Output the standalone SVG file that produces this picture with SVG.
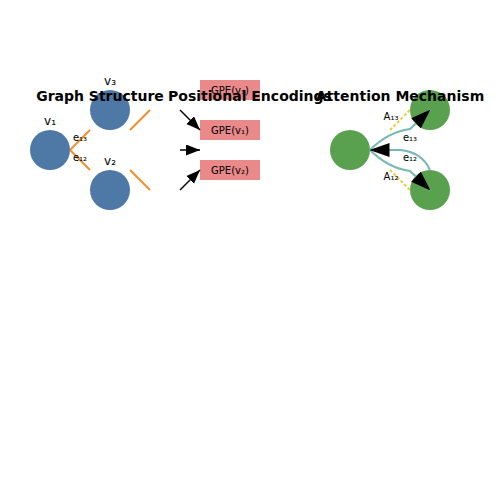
<svg xmlns="http://www.w3.org/2000/svg" width="500" height="500" viewBox="0 0 500 500">
<style>
text{font-family:"DejaVu Sans","Liberation Sans",sans-serif;fill:#000;text-anchor:middle}
.title{font-size:14px;font-weight:bold}
.lbl{font-size:12px}
.sm{font-size:10px}
.gn{fill:#4e79a7}
.an{fill:#59a14f}
.edge{stroke:#f28e2b;stroke-width:2;fill:none}
.blk{stroke:#000;stroke-width:1.5;fill:none}
.teal{stroke:#76b7b2;stroke-width:2;fill:none}
.dash{stroke:#edc948;stroke-width:2;stroke-dasharray:3,2;fill:none}
.box{fill:#e15759;fill-opacity:0.7}
</style>
<defs>
<marker id="ah" markerUnits="userSpaceOnUse" markerWidth="15" markerHeight="12" refX="14" refY="5.5" orient="auto">
<path d="M0,0 L14,5.5 L0,11 Z" fill="#000"/>
</marker>
<marker id="ahb" markerUnits="userSpaceOnUse" markerWidth="21" markerHeight="15" refX="20" refY="7" orient="auto">
<path d="M0,0 L20,7 L0,14 Z" fill="#000"/>
</marker>
</defs>
<rect width="500" height="500" fill="#fff"/>

<g id="graph-edges">
<path class="edge" d="M90,130 L70,150 L90,170"/>
<path class="edge" d="M130,130 L150,110"/>
<path class="edge" d="M130,170 L150,190"/>
</g>
<g id="v1"><circle class="gn" cx="50" cy="150" r="20"/><text class="lbl" x="50" y="125">v₁</text></g>
<g id="v3"><circle class="gn" cx="110" cy="110" r="20"/><text class="lbl" x="110" y="85">v₃</text></g>
<g id="v2"><circle class="gn" cx="110" cy="190" r="20"/><text class="lbl" x="110" y="165">v₂</text></g>
<text class="sm" x="80" y="141">e₁₃</text>
<text class="sm" x="80" y="161">e₁₂</text>

<g id="gpe-v3"><rect class="box" x="200" y="80" width="60" height="20"/><text class="sm" x="230" y="94">GPE(v₃)</text></g>
<g id="gpe-v1"><rect class="box" x="200" y="120" width="60" height="20"/><text class="sm" x="230" y="134">GPE(v₁)</text></g>
<g id="gpe-v2"><rect class="box" x="200" y="160" width="60" height="20"/><text class="sm" x="230" y="174">GPE(v₂)</text></g>

<g id="att-center"><circle class="an" cx="350" cy="150" r="20"/></g>
<g id="att-top"><circle class="an" cx="430" cy="110" r="20"/></g>
<g id="att-bottom"><circle class="an" cx="430" cy="190" r="20"/></g>

<g id="connectors">
<path class="blk" d="M180,110 L200,130" marker-end="url(#ah)"/>
<path class="blk" d="M180,150 L200,150" marker-end="url(#ah)"/>
<path class="blk" d="M180,190 L200,170" marker-end="url(#ah)"/>
<path class="dash" d="M390,130 L410,110"/>
<path class="dash" d="M390,170 L410,190"/>
<path class="teal" d="M370,150 Q388,132 410,129 L430.5,109.5" marker-end="url(#ahb)"/>
<path class="teal" d="M370,150 Q388,168 410,171 L430.5,190.5" marker-end="url(#ahb)"/>
<path class="teal" d="M430,170 Q422,152 400,150 L369.5,150" marker-end="url(#ahb)"/>
</g>
<text class="sm" x="391" y="120">A₁₃</text>
<text class="sm" x="391" y="180">A₁₂</text>
<text class="sm" x="410" y="141">e₁₃</text>
<text class="sm" x="410" y="161">e₁₂</text>

<text class="title" x="100" y="101">Graph Structure</text>
<text class="title" x="250" y="101">Positional Encodings</text>
<text class="title" x="400" y="101">Attention Mechanism</text>
</svg>
